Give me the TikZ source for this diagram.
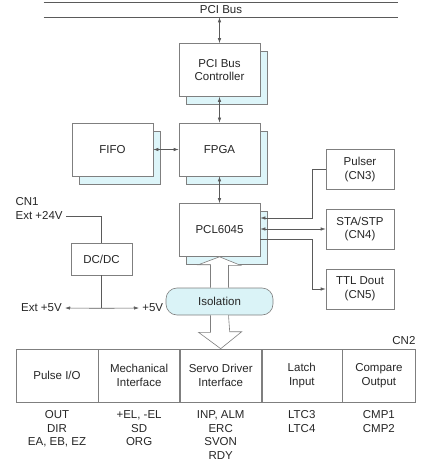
\documentclass[tikz,border=0pt]{standalone}
\usepackage{fontspec}
\setmainfont{Liberation Sans}
\usetikzlibrary{positioning, shadows, arrows.meta, calc}
\definecolor{linegray}{HTML}{5A5A5A}
\definecolor{boxgray}{HTML}{7F7F7F}
\definecolor{shadecyan}{HTML}{DDF5F9}
\definecolor{isocyan}{HTML}{DAF3F7}
\definecolor{textgray}{HTML}{262626}

\begin{document}
\begin{tikzpicture}[
    x=1pt, y=-1pt,
    >={Latex[length=5pt,width=3.4pt]},
    font=\fontsize{11.5}{13.6}\selectfont,
    text=textgray,
    line width=0.6pt,
    % Styles
    block/.style={
        rectangle,
        draw=boxgray,
        fill=white,
        minimum width=81pt,
        minimum height=53pt,
        align=center,
        copy shadow={shadow xshift=7pt, shadow yshift=-8pt, fill=shadecyan, draw=boxgray}
    },
    port/.style={
        rectangle,
        draw=boxgray,
        fill=white,
        minimum width=68pt,
        minimum height=40pt,
        align=center
    },
    power/.style={
        rectangle,
        draw=boxgray,
        minimum width=61pt,
        minimum height=32pt
    },
    iso/.style={
        rectangle,
        rounded corners=11pt,
        draw=boxgray,
        fill=isocyan,
        minimum width=107pt,
        minimum height=27pt
    },
    cell/.style={
        rectangle,
        draw=boxgray,
        minimum height=53pt,
        inner sep=0pt,
        align=center
    },
    signals/.style={
        align=center,
        inner sep=0pt
    },
    arrow/.style={
        draw=linegray
    },
    hollow/.style={
        draw=boxgray,
        fill=white
    }
]
    \useasboundingbox (0,0) rectangle (422,462);

    % PCI bus
    \node[inner sep=0pt, minimum width=354pt, minimum height=14pt] (bus) at (221,10) {PCI Bus};
    \draw[arrow] (bus.north west) -- (bus.north east);
    \draw[arrow] (bus.south west) -- (bus.south east);

    % Layers
    \node[block] (ctrl) at (219.5,70) {PCI Bus\\Controller};
    \node[block] (fpga) at (219.5,149.5) {FPGA};
    \node[block] (fifo) at (112.5,149.5) {FIFO};
    \node[block] (pcl) at (219.5,230) {PCL6045};

    \node[port] (pulser) at (360,169.5) {Pulser\\(CN3)};
    \node[port] (sta) at (360,229) {STA/STP\\(CN4)};
    \node[port] (ttl) at (360,289) {TTL Dout\\(CN5)};

    \node[anchor=west] (cn1) at (12,202) {CN1};
    \node[anchor=west] (ext24) at (12,216) {Ext +24V};
    \node[power] (dcdc) at (101.5,259) {DC/DC};
    \coordinate (split) at ($(dcdc.south)+(0,33)$);
    \node[anchor=east, inner sep=3pt] (ext5) at (65,308) {Ext +5V};
    \node[anchor=west, inner sep=3pt] (v5) at (139,308) {+5V};

    % CN2 connector
    \node[cell, minimum width=82pt] (pulse) at (57,375.5) {Pulse I/O};
    \node[cell, minimum width=81pt, right=0pt of pulse] (mech) {Mechanical\\Interface};
    \node[cell, minimum width=81pt, right=0pt of mech] (servo) {Servo Driver\\Interface};
    \node[cell, minimum width=80pt, right=0pt of servo] (latch) {Latch\\Input};
    \node[cell, minimum width=73pt, right=0pt of latch] (cmp) {Compare\\Output};
    \node[anchor=base east, inner sep=0pt] (cn2) at ($(cmp.north east)+(0,-4)$) {CN2};

    \node[signals, below=8pt of pulse] {OUT\\DIR\\EA, EB, EZ};
    \node[signals, below=8pt of mech] {+EL, -EL\\SD\\ORG};
    \node[signals, below=8pt of servo] {INP, ALM\\ERC\\SVON\\RDY};
    \node[signals, below=8pt of latch] {LTC3\\LTC4};
    \node[signals, below=8pt of cmp] {CMP1\\CMP2};

    % Paths
    \draw[arrow, <->] (ctrl.north) -- (ctrl.north |- bus.south);
    \draw[arrow, <->] (ctrl.south) -- (fpga.north);
    \draw[arrow, <->] (fifo.east) -- (fpga.west);
    \draw[arrow, <->] (fpga.south) -- (pcl.north);
    \draw[arrow, ->] (pulser.west) -- ++(-13,0) |- ([yshift=12pt]pcl.east);
    \draw[arrow, <->] (sta.west -| pcl.east) -- (sta.west);
    \draw[arrow, ->] ([yshift=-9pt]pcl.east) -| ([xshift=-13pt]ttl.west) -- (ttl.west);

    \draw[arrow] (ext24.east) -| (dcdc.north);
    \draw[arrow] (dcdc.south) -- (split);
    \draw[arrow, ->] (split) -- (ext5.east);
    \draw[arrow, ->] (split) -- (v5.west);

    % Isolation
    \node[iso] (isol) at (219.5,301.5) {Isolation};
    \draw[hollow] ([xshift=-9pt]isol.north) -- ++(0,-23) -- ++(-12,0) -- (pcl.south)
        -- ++(21,8.5) -- ++(-12,0) -- ([xshift=9pt]isol.north);
    \draw[hollow] ([xshift=-9pt]isol.south) -- ++(0,17) -- ++(-12,0) -- (servo.north)
        -- ++(21,-17) -- ++(-12,0) -- ([xshift=9pt]isol.south);
\end{tikzpicture}
\end{document}
